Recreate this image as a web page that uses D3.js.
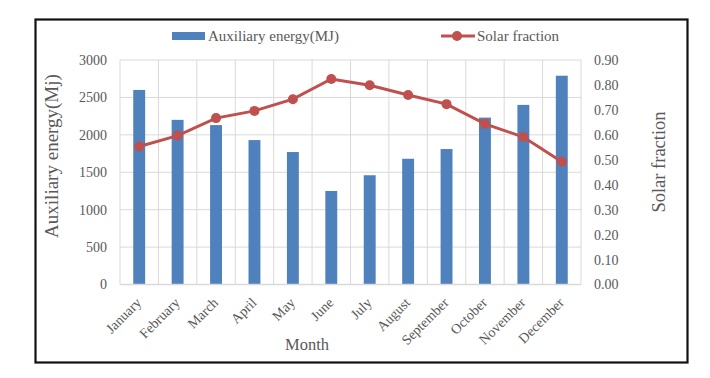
<!DOCTYPE html>
<html lang="en">
<head>
<meta charset="UTF-8">
<script src="https://d3js.org/d3.v7.min.js"></script>
<style>
  body { margin: 0; background: #fff; }
  text { font-family: "Liberation Serif", "Times New Roman", serif; fill: #595959; }
</style>
</head>
<body>
<script>
// data
var months = ["January", "February", "March", "April", "May", "June",
              "July", "August", "September", "October", "November", "December"];
var auxEnergy = [2600, 2200, 2130, 1930, 1770, 1250, 1460, 1680, 1810, 2230, 2400, 2790];
var solarFraction = [0.553, 0.597, 0.667, 0.696, 0.743, 0.824, 0.799, 0.760, 0.723, 0.644, 0.591, 0.492];
var leftTicks = [0, 500, 1000, 1500, 2000, 2500, 3000];
var rightTicks = [0, 0.1, 0.2, 0.3, 0.4, 0.5, 0.6, 0.7, 0.8, 0.9];

var width = 710, height = 378;
var plot = {left: 120, right: 581, top: 60, bottom: 284.5};
var blue = "#4F81BD", red = "#C0504D", grid = "#D9D9D9";

var svg = d3.select("body").append("svg")
    .attr("width", width)
    .attr("height", height);

// outer frame
svg.append("rect")
    .attr("x", 35.5).attr("y", 19.5)
    .attr("width", 652).attr("height", 343)
    .attr("fill", "#fff")
    .attr("stroke", "#111")
    .attr("stroke-width", 2.2);

var x = d3.scaleBand()
    .domain(months)
    .range([plot.left, plot.right])
    .paddingInner(0.69)
    .paddingOuter(0.345);

var xGrid = d3.scaleLinear().domain([0, 12]).range([plot.left, plot.right]);

var yL = d3.scaleLinear().domain([0, 3000]).range([plot.bottom, plot.top]);
var yR = d3.scaleLinear().domain([0, 0.9]).range([plot.bottom, plot.top]);

// grid lines
svg.append("g").selectAll("line")
    .data(leftTicks.slice(1))
    .enter().append("line")
    .attr("x1", plot.left).attr("x2", plot.right)
    .attr("y1", function (d) { return yL(d); })
    .attr("y2", function (d) { return yL(d); })
    .attr("stroke", grid).attr("stroke-width", 1);

svg.append("g").selectAll("line")
    .data(d3.range(0, 13))
    .enter().append("line")
    .attr("x1", function (d) { return xGrid(d); })
    .attr("x2", function (d) { return xGrid(d); })
    .attr("y1", plot.top).attr("y2", plot.bottom)
    .attr("stroke", grid).attr("stroke-width", 1);

// bars
svg.append("g").selectAll("rect")
    .data(auxEnergy)
    .enter().append("rect")
    .attr("x", function (d, i) { return x(months[i]); })
    .attr("y", function (d) { return yL(d); })
    .attr("width", x.bandwidth())
    .attr("height", function (d) { return yL(0) - yL(d); })
    .attr("fill", blue);

// x axis base line
svg.append("line")
    .attr("x1", plot.left).attr("x2", plot.right)
    .attr("y1", plot.bottom).attr("y2", plot.bottom)
    .attr("stroke", grid).attr("stroke-width", 1.5);

// solar fraction line
var cx = function (i) { return x(months[i]) + x.bandwidth() / 2; };
var line = d3.line()
    .x(function (d, i) { return cx(i); })
    .y(function (d) { return yR(d); });

svg.append("path")
    .datum(solarFraction)
    .attr("d", line)
    .attr("fill", "none")
    .attr("stroke", red)
    .attr("stroke-width", 3);

svg.append("g").selectAll("circle")
    .data(solarFraction)
    .enter().append("circle")
    .attr("cx", function (d, i) { return cx(i); })
    .attr("cy", function (d) { return yR(d); })
    .attr("r", 5)
    .attr("fill", red);

// left axis
var leftAxis = d3.axisLeft(yL).tickValues(leftTicks).tickSize(0).tickPadding(13)
    .tickFormat(d3.format("d"));
var gl = svg.append("g")
    .attr("transform", "translate(" + plot.left + ",0)")
    .call(leftAxis);
gl.select(".domain").remove();
gl.selectAll("text").style("font-size", "14px").attr("fill", "#595959")
    .style("font-family", "'Liberation Serif', serif");

// right axis
var rightAxis = d3.axisRight(yR).tickValues(rightTicks).tickSize(0).tickPadding(13)
    .tickFormat(d3.format(".2f"));
var gr = svg.append("g")
    .attr("transform", "translate(" + plot.right + ",0)")
    .call(rightAxis);
gr.select(".domain").remove();
gr.selectAll("text").style("font-size", "14px").attr("fill", "#595959")
    .style("font-family", "'Liberation Serif', serif");

// month labels
svg.append("g").selectAll("text")
    .data(months)
    .enter().append("text")
    .attr("transform", function (d, i) {
        return "translate(" + (cx(i) + 3) + "," + (plot.bottom + 19) + ") rotate(-45)";
    })
    .attr("text-anchor", "end")
    .style("font-size", "14px")
    .text(function (d) { return d; });

// axis titles
svg.append("text")
    .attr("x", 307).attr("y", 350)
    .attr("text-anchor", "middle")
    .style("font-size", "16.5px")
    .text("Month");

svg.append("text")
    .attr("transform", "translate(58,156) rotate(-90)")
    .attr("text-anchor", "middle")
    .style("font-size", "19px")
    .text("Auxiliary energy(Mj)");

svg.append("text")
    .attr("transform", "translate(665,162) rotate(-90)")
    .attr("text-anchor", "middle")
    .style("font-size", "18.5px")
    .text("Solar fraction");

// legend
svg.append("rect")
    .attr("x", 172).attr("y", 32)
    .attr("width", 33).attr("height", 8)
    .attr("fill", blue);
svg.append("text")
    .attr("x", 208).attr("y", 41)
    .style("font-size", "15px")
    .text("Auxiliary energy(MJ)");

svg.append("line")
    .attr("x1", 441).attr("x2", 475)
    .attr("y1", 36).attr("y2", 36)
    .attr("stroke", red).attr("stroke-width", 3);
svg.append("circle")
    .attr("cx", 457).attr("cy", 36).attr("r", 5)
    .attr("fill", red);
svg.append("text")
    .attr("x", 477).attr("y", 41)
    .style("font-size", "15px")
    .text("Solar fraction");
</script>
</body>
</html>
